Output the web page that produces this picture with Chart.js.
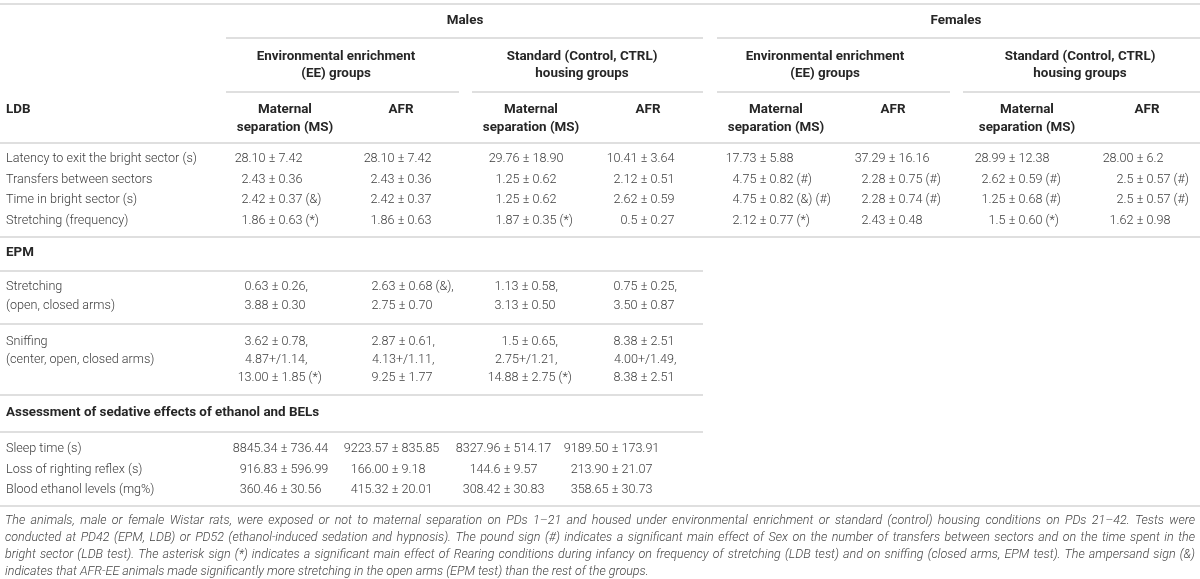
<!DOCTYPE html>
<html><head><meta charset="utf-8">
<script src="https://cdn.jsdelivr.net/npm/chart.js@4.4.0/dist/chart.umd.min.js"></script>
<style>html,body{margin:0;padding:0;background:#fff;}#wrap{position:relative;width:1200px;height:579px;}</style>
</head><body><div id="wrap"><canvas id="c"></canvas></div>
<script>
// ---------- DATA ----------
const sexHeaders = ["Males", "Females"];
const housingHeaders = [["Environmental enrichment", "(EE) groups"], ["Standard (Control, CTRL)", "housing groups"]];
const conditionHeaders = [["Maternal", "separation (MS)"], ["AFR"]];
const sectionTitles = ["LDB", "EPM", "Assessment of sedative effects of ethanol and BELs"];

const ldbRows = ["Latency to exit the bright sector (s)", "Transfers between sectors", "Time in bright sector (s)", "Stretching (frequency)"];
const ldbMalesEE_MS = ["28.10 ± 7.42", "2.43 ± 0.36", "2.42 ± 0.37 (&)", "1.86 ± 0.63 (*)"];
const ldbMalesEE_AFR = ["28.10 ± 7.42", "2.43 ± 0.36", "2.42 ± 0.37", "1.86 ± 0.63"];
const ldbMalesCTRL_MS = ["29.76 ± 18.90", "1.25 ± 0.62", "1.25 ± 0.62", "1.87 ± 0.35 (*)"];
const ldbMalesCTRL_AFR = ["10.41 ± 3.64", "2.12 ± 0.51", "2.62 ± 0.59", "0.5 ± 0.27"];
const ldbFemalesEE_MS = ["17.73 ± 5.88", "4.75 ± 0.82 (#)", "4.75 ± 0.82 (&) (#)", "2.12 ± 0.77 (*)"];
const ldbFemalesEE_AFR = ["37.29 ± 16.16", "2.28 ± 0.75 (#)", "2.28 ± 0.74 (#)", "2.43 ± 0.48"];
const ldbFemalesCTRL_MS = ["28.99 ± 12.38", "2.62 ± 0.59 (#)", "1.25 ± 0.68 (#)", "1.5 ± 0.60 (*)"];
const ldbFemalesCTRL_AFR = ["28.00 ± 6.2", "2.5 ± 0.57 (#)", "2.5 ± 0.57 (#)", "1.62 ± 0.98"];

const epmRows = [["Stretching", "(open, closed arms)"], ["Sniffing", "(center, open, closed arms)"]];
const epmMalesEE_MS = [["0.63 ± 0.26,", "3.88 ± 0.30"], ["3.62 ± 0.78,", "4.87+/1.14,", "13.00 ± 1.85 (*)"]];
const epmMalesEE_AFR = [["2.63 ± 0.68 (&),", "2.75 ± 0.70"], ["2.87 ± 0.61,", "4.13+/1.11,", "9.25 ± 1.77"]];
const epmMalesCTRL_MS = [["1.13 ± 0.58,", "3.13 ± 0.50"], ["1.5 ± 0.65,", "2.75+/1.21,", "14.88 ± 2.75 (*)"]];
const epmMalesCTRL_AFR = [["0.75 ± 0.25,", "3.50 ± 0.87"], ["8.38 ± 2.51", "4.00+/1.49,", "8.38 ± 2.51"]];

const sedRows = ["Sleep time (s)", "Loss of righting reflex (s)", "Blood ethanol levels (mg%)"];
const sedMalesEE_MS = ["8845.34 ± 736.44", "916.83 ± 596.99", "360.46 ± 30.56"];
const sedMalesEE_AFR = ["9223.57 ± 835.85", "166.00 ± 9.18", "415.32 ± 20.01"];
const sedMalesCTRL_MS = ["8327.96 ± 514.17", "144.6 ± 9.57", "308.42 ± 30.83"];
const sedMalesCTRL_AFR = ["9189.50 ± 173.91", "213.90 ± 21.07", "358.65 ± 30.73"];

const footnoteLines = [
  "The animals, male or female Wistar rats, were exposed or not to maternal separation on PDs 1–21 and housed under environmental enrichment or standard (control) housing conditions on PDs 21–42. Tests were",
  "conducted at PD42 (EPM, LDB) or PD52 (ethanol-induced sedation and hypnosis). The pound sign (#) indicates a significant main effect of Sex on the number of transfers between sectors and on the time spent in the",
  "bright sector (LDB test). The asterisk sign (*) indicates a significant main effect of Rearing conditions during infancy on frequency of stretching (LDB test) and on sniffing (closed arms, EPM test). The ampersand sign (&)",
  "indicates that AFR-EE animals made significantly more stretching in the open arms (EPM test) than the rest of the groups."
];

// ---------- LAYOUT / STYLE ----------
const FONT_FAMILY = "Roboto, 'Liberation Sans', Arial, sans-serif";
const BODY = "300 12.6px " + FONT_FAMILY;
const BOLD = "bold 13.4px " + FONT_FAMILY;
const FOOT = "italic 300 12.5px " + FONT_FAMILY;
const TEXT_COLOR = "#3c3c3c";
const HEAD_COLOR = "#262626";
const FOOT_COLOR = "#444444";
const LINE_COLOR = "#d5d5d5";

const tablePlugin = {
  id: "tablePlugin",
  afterDraw(chart) {
    const ctx = chart.ctx;
    const xs = chart.scales.x, ys = chart.scales.y;
    const X = v => xs.getPixelForValue(v);
    const Y = v => ys.getPixelForValue(v);

    function hline(y, x1, x2, w) {
      ctx.save();
      ctx.strokeStyle = LINE_COLOR;
      ctx.lineWidth = w || 1.5;
      ctx.beginPath();
      ctx.moveTo(X(x1), Y(y));
      ctx.lineTo(X(x2), Y(y));
      ctx.stroke();
      ctx.restore();
    }
    function text(str, x, y, align, font, color) {
      ctx.save();
      ctx.font = font;
      ctx.fillStyle = color;
      ctx.textAlign = align;
      ctx.textBaseline = "middle";
      ctx.fillText(str, X(x), Y(y));
      ctx.restore();
    }
    function pm(str, ax, y) {
      ctx.save();
      ctx.font = BODY;
      ctx.fillStyle = TEXT_COLOR;
      ctx.textBaseline = "middle";
      let sep = str.indexOf("±") >= 0 ? "±" : (str.indexOf("+/") >= 0 ? "+/" : null);
      if (!sep) { ctx.textAlign = "center"; ctx.fillText(str, X(ax), Y(y)); ctx.restore(); return; }
      const i = str.indexOf(sep);
      const left = str.slice(0, i), right = str.slice(i + sep.length);
      const sw = ctx.measureText(sep).width;
      ctx.textAlign = "right"; ctx.fillText(left, X(ax) - sw / 2, Y(y));
      ctx.textAlign = "center"; ctx.fillText(sep, X(ax), Y(y));
      ctx.textAlign = "left"; ctx.fillText(right, X(ax) + sw / 2, Y(y));
      ctx.restore();
    }
    function justify(str, x1, x2, y, last) {
      ctx.save();
      ctx.font = FOOT;
      ctx.fillStyle = FOOT_COLOR;
      ctx.textBaseline = "middle";
      ctx.textAlign = "left";
      const words = str.split(" ");
      const widths = words.map(w => ctx.measureText(w).width);
      const total = widths.reduce((a, b) => a + b, 0);
      const space = ctx.measureText(" ").width;
      const avail = X(x2) - X(x1);
      let gap = last ? space : (avail - total) / (words.length - 1);
      let scale = 1;
      if (gap < space * 0.6) { gap = space * 0.6; scale = avail / (total + gap * (words.length - 1)); }
      ctx.translate(X(x1), Y(y));
      ctx.scale(scale, 1);
      let px = 0;
      words.forEach((w, k) => { ctx.fillText(w, px, 0); px += widths[k] + gap; });
      ctx.restore();
    }

    // lines
    hline(4, 0, 1200, 1.5);
    hline(38, 226, 703); hline(38, 717, 1200);
    hline(92, 226, 459); hline(92, 472, 703); hline(92, 717, 950); hline(92, 963, 1200);
    hline(143, 0, 1200);
    hline(237, 0, 1200);
    hline(271, 0, 703);
    hline(324, 0, 703);
    hline(395, 0, 703);
    hline(432, 0, 703);
    hline(506, 0, 1200);

    // header
    const sexCenters = [465, 956];
    sexHeaders.forEach((s, i) => text(s, sexCenters[i], 21, "center", BOLD, HEAD_COLOR));
    const housingCenters = [336, 582, 825, 1080];
    housingCenters.forEach((cx, i) => {
      const h = housingHeaders[i % 2];
      text(h[0], cx, 57, "center", BOLD, HEAD_COLOR);
      text(h[1], cx, 74, "center", BOLD, HEAD_COLOR);
    });
    const msCenters = [285, 531, 776, 1027];
    const afrCenters = [401, 648, 893, 1147];
    msCenters.forEach(cx => {
      text(conditionHeaders[0][0], cx, 110, "center", BOLD, HEAD_COLOR);
      text(conditionHeaders[0][1], cx, 128, "center", BOLD, HEAD_COLOR);
    });
    afrCenters.forEach(cx => text(conditionHeaders[1][0], cx, 110, "center", BOLD, HEAD_COLOR));
    text(sectionTitles[0], 6, 110, "left", BOLD, HEAD_COLOR);

    // LDB body
    const ldbY = [159, 180, 200, 221];
    const ldbCols = [ldbMalesEE_MS, ldbMalesEE_AFR, ldbMalesCTRL_MS, ldbMalesCTRL_AFR,
                     ldbFemalesEE_MS, ldbFemalesEE_AFR, ldbFemalesCTRL_MS, ldbFemalesCTRL_AFR];
    const ldbAnchors = [272, 401, 526, 644, 763, 892, 1012, 1140];
    ldbRows.forEach((r, i) => {
      text(r, 6, ldbY[i], "left", BODY, TEXT_COLOR);
      ldbCols.forEach((col, c) => pm(col[i], ldbAnchors[c], ldbY[i]));
    });

    // EPM
    text(sectionTitles[1], 6, 253, "left", BOLD, HEAD_COLOR);
    const epmY = [[287, 306], [342, 360, 378]];
    const epmCols = [epmMalesEE_MS, epmMalesEE_AFR, epmMalesCTRL_MS, epmMalesCTRL_AFR];
    const epmAnchors = [275, 402, 525, 644];
    epmRows.forEach((r, i) => {
      r.forEach((ln, k) => text(ln, 6, epmY[i][k], "left", BODY, TEXT_COLOR));
      epmCols.forEach((col, c) => col[i].forEach((v, k) => pm(v, epmAnchors[c], epmY[i][k])));
    });

    // Sedative
    text(sectionTitles[2], 6, 413, "left", BOLD, HEAD_COLOR);
    const sedY = [449, 470, 490];
    const sedCols = [sedMalesEE_MS, sedMalesEE_AFR, sedMalesCTRL_MS, sedMalesCTRL_AFR];
    const sedAnchors = [284, 395, 507, 615];
    sedRows.forEach((r, i) => {
      text(r, 6, sedY[i], "left", BODY, TEXT_COLOR);
      sedCols.forEach((col, c) => pm(col[i], sedAnchors[c], sedY[i]));
    });

    // footnote
    const footY = [521, 538, 555, 572];
    footnoteLines.forEach((ln, i) => justify(ln, 5, 1195, footY[i], i === footnoteLines.length - 1));
  }
};

const chart = new Chart(document.getElementById("c"), {
  type: "scatter",
  data: { datasets: [{ data: [], pointRadius: 0 }] },
  options: {
    responsive: true, maintainAspectRatio: false, animation: false, events: [],
    layout: { padding: 0 },
    plugins: { legend: { display: false }, tooltip: { enabled: false } },
    scales: {
      x: { type: "linear", min: 0, max: 1200, display: false },
      y: { type: "linear", min: 0, max: 579, reverse: true, display: false }
    }
  },
  plugins: [tablePlugin]
});
if (document.fonts && document.fonts.ready) document.fonts.ready.then(() => chart.draw());
</script></body></html>
